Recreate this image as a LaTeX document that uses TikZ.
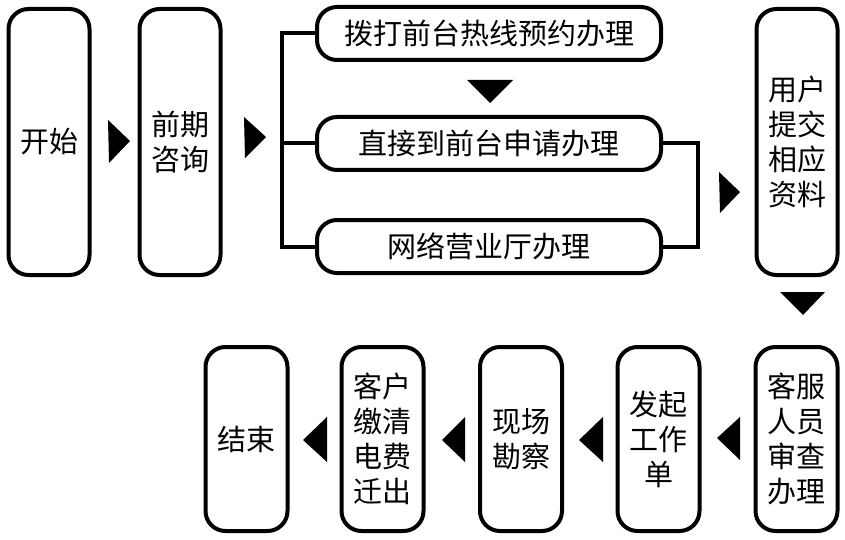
\documentclass[tikz,border=0pt]{standalone}
\usepackage{fontspec}
\newfontfamily\cjk{Noto Sans CJK SC}
\begin{document}
\begin{tikzpicture}[x=1pt,y=-1pt,
  box/.style={draw, line width=4pt, rounded corners=20pt, inner sep=0pt, align=center,
    font=\cjk\fontsize{29}{35}\selectfont},
  tall/.style={box, minimum width=81pt, minimum height=266pt},
  wide/.style={box, minimum width=344pt, minimum height=53pt},
  low/.style={box, minimum width=82pt, minimum height=184pt},
  link/.style={line width=4pt},
  tri/.style={fill=black}]
\useasboundingbox (0,0) rectangle (845,540);
% top row
\node[tall] (start) at (49,142) {开始};
\node[tall] (pre) at (180,142) {前期\\咨询};
\node[wide] (call) at (489,33.5) {拨打前台热线预约办理};
\node[wide] (direct) at (489,143.5) {直接到前台申请办理};
\node[wide] (web) at (489,246.5) {网络营业厅办理};
\node[tall] (user) at (797,142) {用户\\提交\\相应\\资料};
% bottom row
\node[low] (check) at (796.5,439) {客服\\人员\\审查\\办理};
\node[low] (order) at (658.5,439) {发起\\工作\\单};
\node[low] (site) at (521,439) {现场\\勘察};
\node[low] (pay) at (382.5,439) {客户\\缴清\\电费\\迁出};
\node[low] (end) at (246.5,439) {结束};
% brackets
\coordinate (lx) at (282,0);
\coordinate (rx) at (698,0);
\draw[link] (call.west) -| (lx |- web.west) -- (web.west);
\draw[link] (direct.west) -- (direct.west -| lx);
\draw[link] (direct.east) -| (rx |- web.east) -- (web.east);
% arrow heads
\fill[tri] (108,120) -- (130,141) -- (109,163) -- cycle;
\fill[tri] (244,117) -- (266,137) -- (245,158) -- cycle;
\fill[tri] (467,80) -- (513,80) -- (490,103) -- cycle;
\fill[tri] (719,172) -- (740,192) -- (720,213) -- cycle;
\fill[tri] (780,292) -- (825,292) -- (803,315) -- cycle;
\fill[tri] (740,417) -- (717,438) -- (740,460) -- cycle;
\fill[tri] (603,417) -- (579,440) -- (603,462) -- cycle;
\fill[tri] (465,417) -- (442,440) -- (465,462) -- cycle;
\fill[tri] (327,417) -- (303,440) -- (327,462) -- cycle;
\end{tikzpicture}
\end{document}
